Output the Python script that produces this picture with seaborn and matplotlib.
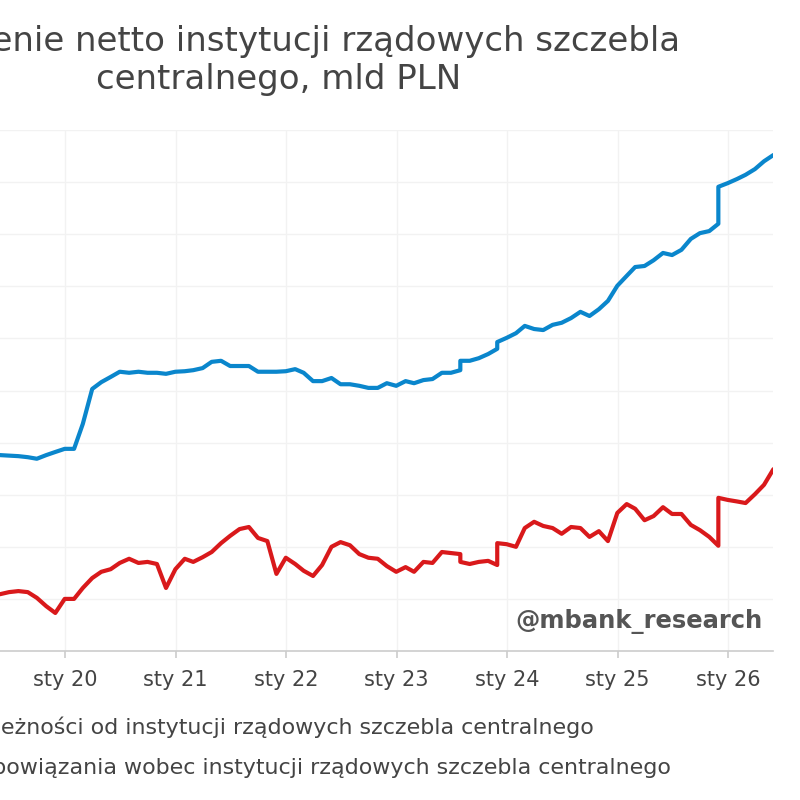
import numpy as np
import pandas as pd
import matplotlib
matplotlib.use("Agg")
import matplotlib.pyplot as plt
import matplotlib.dates as mdates
from matplotlib.lines import Line2D
import seaborn as sns

TITLE = "Zadłużenie netto instytucji rządowych szczebla\ncentralnego, mld PLN"
LABEL_CLAIMS = "należności od instytucji rządowych szczebla centralnego"
LABEL_LIAB = "zobowiązania wobec instytucji rządowych szczebla centralnego"

# month-end observations, May 2019 .. May 2026
months = pd.date_range("2019-05-31", "2026-05-31", freq="ME")
# months with a statistical break: two observations on the same date
break_months = pd.to_datetime(["2023-07-31", "2023-11-30", "2025-11-30"])

claims = [376, 375, 374, 372, 369, 376, 382, 388, 388, 436,
          503, 516, 526, 536, 534, 536, 534, 534, 532, 536,
          537, 539, 543, 555, 557, 547, 547, 547, 536, 536,
          536, 537, 541, 534, 518, 518, 524, 512, 512, 509,
          505, 505, 514, 509, 518, 514, 520, 522, 534, 534,
          539, 557, 557, 562, 570, 580, 593, 601, 610, 624,
          618, 616, 626, 630, 639, 651, 643, 656, 672, 701,
          720, 737, 739, 750, 764, 760, 770, 791, 802, 806,
          820, 891, 898, 906, 914, 925, 940, 952]

liabilities = [109, 113, 115, 113, 102, 86, 73, 100, 100, 121,
               140, 152, 157, 169, 177, 169, 171, 167, 121, 157,
               177, 171, 180, 190, 207, 221, 234, 238, 217, 211,
               148, 179, 167, 154, 144, 165, 200, 209, 203, 186,
               179, 177, 163, 152, 161, 152, 171, 169, 190, 188,
               186, 171, 167, 171, 173, 165, 207, 205, 200, 236,
               248, 240, 236, 225, 238, 236, 219, 230, 211, 265,
               282, 273, 251, 259, 276, 263, 263, 242, 232, 219,
               202, 294, 290, 287, 284, 301, 319, 349]

year_ticks = pd.to_datetime(["2020-01-01", "2021-01-01", "2022-01-01", "2023-01-01",
                             "2024-01-01", "2025-01-01", "2026-01-01"])
year_labels = ["sty 20", "sty 21", "sty 22", "sty 23", "sty 24", "sty 25", "sty 26"]

dates = pd.Series(list(months) + list(break_months)).sort_values(kind="stable").reset_index(drop=True)
df = pd.DataFrame({"date": dates, "claims": claims, "liabilities": liabilities})

sns.set_theme(style="white")
plt.rcParams["font.family"] = ["DejaVu Sans"]

BLUE = "#0a86cc"
RED = "#d9191b"
TXT = "#444444"

fig = plt.figure(figsize=(8, 8), dpi=100)
x0 = mdates.date2num(pd.Timestamp("2019-03-31"))
x1 = mdates.date2num(pd.Timestamp("2026-05-31"))
ax = fig.add_axes([-18.5 / 800, 149 / 800, 791.9 / 800, 521 / 800])

sns.lineplot(data=df, x="date", y="claims", ax=ax, color=BLUE, linewidth=3,
             estimator=None, sort=False)
sns.lineplot(data=df, x="date", y="liabilities", ax=ax, color=RED, linewidth=3,
             estimator=None, sort=False)

ax.set_xlim(x0, x1)
ax.set_ylim(0, 1000)
ax.set_yticks(np.arange(0, 1001, 100))
ax.set_xticks(year_ticks)
ax.set_xticklabels(year_labels)
ax.set_xlabel("")
ax.set_ylabel("")
ax.grid(True, color="#f2f2f2", linewidth=1)
for s in ["top", "right", "left"]:
    ax.spines[s].set_visible(False)
ax.spines["bottom"].set_color("#cccccc")
ax.spines["bottom"].set_linewidth(1.2)
ax.tick_params(axis="x", colors="#cccccc", length=5, width=1.2, pad=9,
               labelsize=15, labelcolor=TXT, bottom=True)
ax.tick_params(axis="y", left=False, labelsize=15, labelcolor=TXT)

ax.text(763 / 800, 1 - 621 / 800, "@mbank_research", transform=fig.transFigure,
        ha="right", va="center", fontsize=17.5, fontweight="bold", color="#555555")

fig.text(279 / 800, 1 - 25 / 800, TITLE, ha="center", va="top", fontsize=24.5,
         color=TXT, linespacing=1.2, multialignment="center")

handles = [Line2D([], [], color=BLUE, linewidth=3), Line2D([], [], color=RED, linewidth=3)]
fig.legend(handles, [LABEL_CLAIMS, LABEL_LIAB], loc="upper left",
           bbox_to_anchor=(-95 / 800, 1 - 716 / 800), frameon=False, fontsize=15.9,
           labelcolor=TXT, borderpad=0, borderaxespad=0, labelspacing=0.95,
           handlelength=2, handletextpad=0.8)

fig.savefig("out.png", dpi=100)
